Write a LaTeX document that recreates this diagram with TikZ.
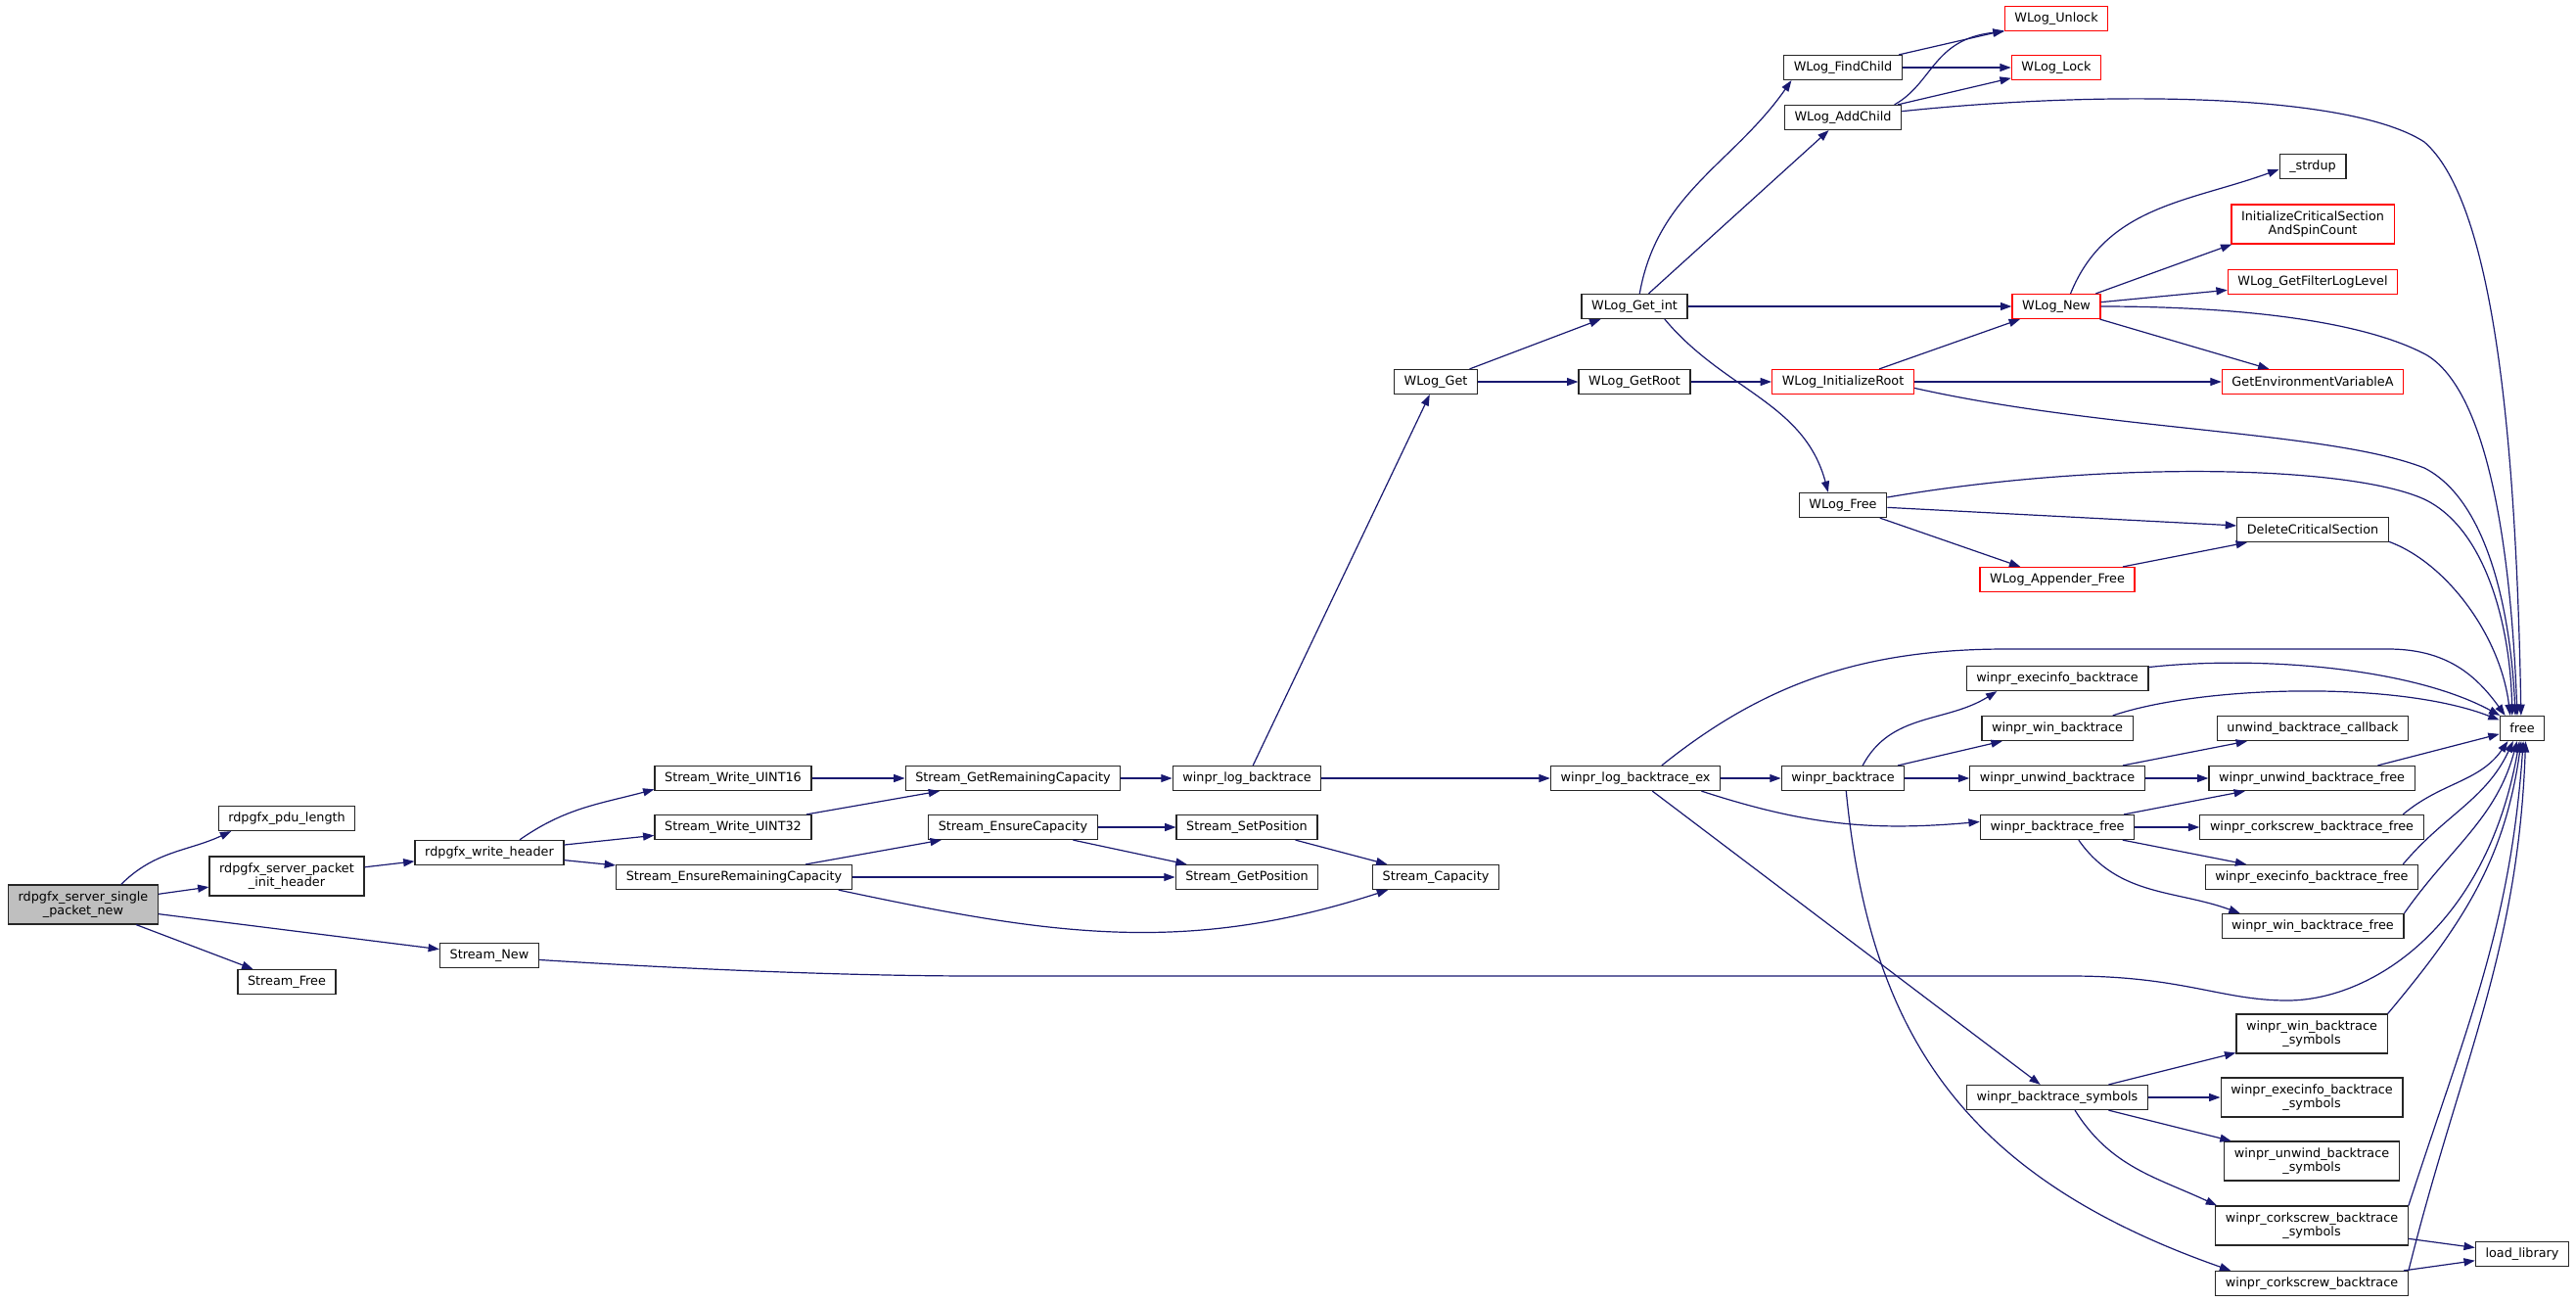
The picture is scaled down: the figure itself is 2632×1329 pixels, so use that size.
\documentclass[tikz,border=0pt]{standalone}
\usepackage{fontspec}
\setmainfont{DejaVu Sans}
\usetikzlibrary{arrows.meta}
\definecolor{callblue}{HTML}{191970}
\definecolor{rootgray}{HTML}{BFBFBF}
\tikzset{
  fn/.style={draw=black!85, line width=0.9pt, fill=white, inner xsep=7.6pt, inner ysep=1pt,
    minimum height=18.75pt, align=center},
  fntwo/.style={fn, minimum height=30pt},
  trunc/.style={draw=red},
  root/.style={fill=rootgray},
  call/.style={draw=callblue, line width=0.9pt, -{Triangle[length=8.5pt,width=6pt]}}
}
\begin{document}
\begin{tikzpicture}[x=0.75pt,y=0.75pt,font=\fontsize{9.6}{10}\selectfont]
\useasboundingbox (0,0) rectangle (2632,-1329);

\node[fntwo,root] (a1) at (85,-924) {rdpgfx\_server\_single\\\_packet\_new};

\node[fn] (b1) at (293,-836) {rdpgfx\_pdu\_length};
\node[fntwo] (b2) at (293,-895) {rdpgfx\_server\_packet\\\_init\_header};
\node[fn] (b3) at (293,-1003) {Stream\_Free};

\node[fn] (c1) at (500,-871) {rdpgfx\_write\_header};
\node[fn] (c2) at (500,-976) {Stream\_New};

\node[fn] (d1) at (749,-795) {Stream\_Write\_UINT16};
\node[fn] (d2) at (749,-845) {Stream\_Write\_UINT32};
\node[fn] (d3) at (750,-896) {Stream\_EnsureRemainingCapacity};

\node[fn] (e1) at (1035,-795) {Stream\_GetRemainingCapacity};
\node[fn] (e2) at (1035,-845) {Stream\_EnsureCapacity};

\node[fn] (f1) at (1274,-795) {winpr\_log\_backtrace};
\node[fn] (f2) at (1274,-845) {Stream\_SetPosition};
\node[fn] (f3) at (1274,-896) {Stream\_GetPosition};

\node[fn] (g1) at (1467,-390) {WLog\_Get};
\node[fn] (g2) at (1467,-896) {Stream\_Capacity};

\node[fn] (h1) at (1670,-313) {WLog\_Get\_int};
\node[fn] (h2) at (1670,-390) {WLog\_GetRoot};
\node[fn] (h3) at (1671,-795) {winpr\_log\_backtrace\_ex};

\node[fn] (i1) at (1883,-69) {WLog\_FindChild};
\node[fn] (i2) at (1883,-120) {WLog\_AddChild};
\node[fn,trunc] (i3) at (1883,-390) {WLog\_InitializeRoot};
\node[fn] (i4) at (1883,-516) {WLog\_Free};
\node[fn] (i5) at (1883,-795) {winpr\_backtrace};

\node[fn,trunc] (j1) at (2101,-19) {WLog\_Unlock};
\node[fn,trunc] (j2) at (2101,-69) {WLog\_Lock};
\node[fn,trunc] (j3) at (2101,-313) {WLog\_New};
\node[fn,trunc] (j4) at (2102,-592) {WLog\_Appender\_Free};
\node[fn] (j5) at (2102,-693) {winpr\_execinfo\_backtrace};
\node[fn] (j6) at (2102,-744) {winpr\_win\_backtrace};
\node[fn] (j7) at (2102,-795) {winpr\_unwind\_backtrace};
\node[fn] (j8) at (2102,-845) {winpr\_backtrace\_free};
\node[fn] (j9) at (2102,-1121) {winpr\_backtrace\_symbols};

\node[fn] (k1) at (2363,-170) {\_strdup};
\node[fntwo,trunc] (k2) at (2363,-229) {InitializeCriticalSection\\AndSpinCount};
\node[fn,trunc] (k3) at (2363,-288) {WLog\_GetFilterLogLevel};
\node[fn,trunc] (k4) at (2363,-390) {GetEnvironmentVariableA};
\node[fn] (k5) at (2363,-541) {DeleteCriticalSection};
\node[fn] (k6) at (2363,-744) {unwind\_backtrace\_callback};
\node[fn] (k7) at (2362,-795) {winpr\_unwind\_backtrace\_free};
\node[fn] (k8) at (2362,-845) {winpr\_corkscrew\_backtrace\_free};
\node[fn] (k9) at (2362,-896) {winpr\_execinfo\_backtrace\_free};
\node[fn] (k10) at (2363,-946) {winpr\_win\_backtrace\_free};
\node[fntwo] (k11) at (2362,-1056) {winpr\_win\_backtrace\\\_symbols};
\node[fntwo] (k12) at (2362,-1121) {winpr\_execinfo\_backtrace\\\_symbols};
\node[fntwo] (k13) at (2362,-1186) {winpr\_unwind\_backtrace\\\_symbols};
\node[fntwo] (k14) at (2362,-1252) {winpr\_corkscrew\_backtrace\\\_symbols};
\node[fn] (k15) at (2362,-1311) {winpr\_corkscrew\_backtrace};

\node[fn] (l1) at (2577,-744) {free};
\node[fn] (l2) at (2577,-1281) {load\_library};

\draw[call] (a1.28) to[out=45,in=205] (b1.193);
\draw[call] (a1) -- (b2);
\draw[call] (a1) -- (c2);
\draw[call] (a1) -- (b3);
\draw[call] (b2) -- (c1);
\draw[call] (c1.23) to[out=35,in=195] (d1.188);
\draw[call] (c1) -- (d2);
\draw[call] (c1) -- (d3);
\draw[call] (d1) -- (e1);
\draw[call] (d2) -- (e1);
\draw[call] (d3) -- (e2);
\draw[call] (d3) -- (f3);
\draw[call] (d3.-7) to[out=-12,in=198] (g2.195);
\draw[call] (e1) -- (f1);
\draw[call] (e2) -- (f2);
\draw[call] (e2) -- (f3);
\draw[call] (f2) -- (g2);
\draw[call] (f1) -- (g1);
\draw[call] (f1) -- (h3);
\draw[call] (g1) -- (h1);
\draw[call] (g1) -- (h2);
\draw[call] (h2) -- (i3);
\draw[call] (h1.68) to[out=80,in=235] (i1.194);
\draw[call] (h1) -- (i2);
\draw[call] (h1) -- (j3);
\draw[call] (h1.-23) to[out=-50,in=105] (i4.139);
\draw[call] (i1) -- (j1);
\draw[call] (i1) -- (j2);
\draw[call] (i2.14) .. controls (1975,-85) and (1975,-40) .. (j1.south west);
\draw[call] (i2) -- (j2);
\draw[call] (i2.6) .. controls (2150,-92) and (2400,-95) .. (2477,-145) .. controls (2540,-200) and (2570,-400) .. (l1.95);
\draw[call] (i3) -- (j3);
\draw[call] (i3) -- (k4);
\draw[call] (i3.-5) .. controls (2150,-440) and (2380,-440) .. (2477,-478) .. controls (2540,-510) and (2565,-620) .. (l1.118);
\draw[call] (j3.42) to[out=68,in=200] (k1.185);
\draw[call] (j3.18) -- (k2.194);
\draw[call] (j3) -- (k3);
\draw[call] (j3) -- (k4);
\draw[call] (j3.east) .. controls (2300,-313) and (2420,-330) .. (2480,-363) .. controls (2540,-400) and (2565,-550) .. (l1.111);
\draw[call] (i4) -- (k5);
\draw[call] (i4) -- (j4);
\draw[call] (i4.10) .. controls (2150,-470) and (2400,-475) .. (2477,-510) .. controls (2540,-540) and (2565,-640) .. (l1.128);
\draw[call] (j4) -- (k5);
\draw[call] (k5.-9) .. controls (2500,-575) and (2555,-650) .. (l1.133);
\draw[call] (h3) -- (i5);
\draw[call] (h3.-11) to[out=-18,in=185] (j8.176);
\draw[call] (h3) -- (j9);
\draw[call] (h3.26) .. controls (1800,-700) and (1900,-663) .. (2050,-663) -- (2440,-663) .. controls (2500,-663) and (2530,-690) .. (l1.143);
\draw[call] (i5.33) to[out=62,in=212] (j5.192);
\draw[call] (i5) -- (j6);
\draw[call] (i5) -- (j7);
\draw[call] (i5.-76) .. controls (1910,-1050) and (2000,-1200) .. (k15.171);
\draw[call] (j5.7) .. controls (2300,-670) and (2460,-680) .. (l1.150);
\draw[call] (j6.13) .. controls (2250,-700) and (2450,-695) .. (l1.160);
\draw[call] (j7) -- (k6);
\draw[call] (j7) -- (k7);
\draw[call] (j8) -- (k7);
\draw[call] (j8) -- (k8);
\draw[call] (j8) -- (k9);
\draw[call] (j8.-31) to[out=-55,in=160] (k10.170);
\draw[call] (k7.11) -- (l1.194);
\draw[call] (k8.8) to[out=40,in=235] (l1.222);
\draw[call] (k9.8) to[out=50,in=245] (l1.235);
\draw[call] (k10.north east) to[out=55,in=255] (l1.248);
\draw[call] (j9) -- (k11);
\draw[call] (j9) -- (k12);
\draw[call] (j9) -- (k13);
\draw[call] (j9.-36) to[out=-58,in=155] (k14.168);
\draw[call] (k11.north east) to[out=50,in=262] (l1.266);
\draw[call] (k14.north east) to[out=72,in=266] (l1.275);
\draw[call] (k15.north east) to[out=76,in=268] (l1.285);
\draw[call] (k14) -- (l2);
\draw[call] (k15) -- (l2);
\draw[call] (c2.-5) .. controls (750,-993) and (900,-997) .. (1000,-997) -- (2116,-997) .. controls (2230,-997) and (2270,-1022) .. (2337,-1022) .. controls (2420,-1022) and (2540,-950) .. (l1.258);
\end{tikzpicture}
\end{document}
